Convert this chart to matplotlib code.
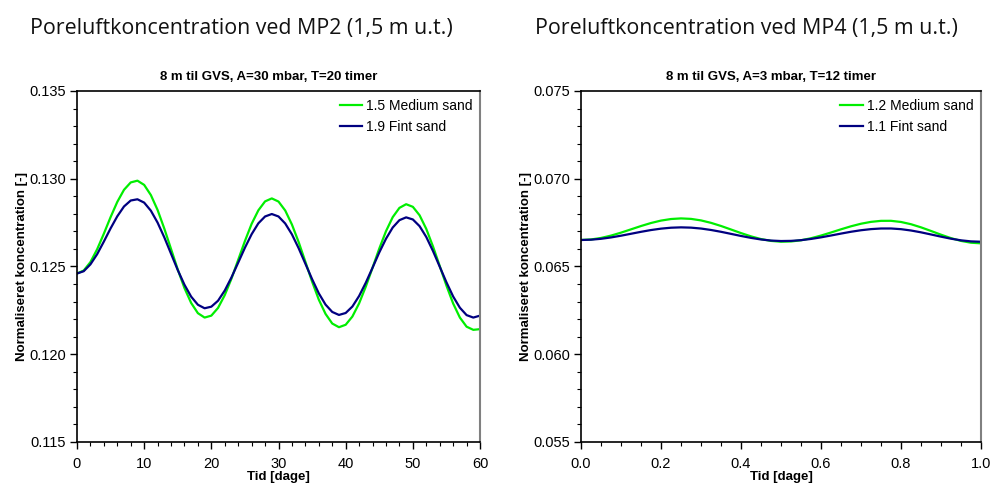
import numpy as np
import matplotlib
matplotlib.use("Agg")
import matplotlib.pyplot as plt
from matplotlib.ticker import MultipleLocator, FormatStrFormatter

# --- MP2, 30 mbar, T=20 timer (tid i dage) ---
t_mp2 = list(range(0, 61))
mp2_medium = [
    0.12460, 0.12477, 0.12525, 0.12598, 0.12687, 0.12781, 0.12868, 0.12937, 0.12979, 0.12989,
    0.12965, 0.12907, 0.12822, 0.12716, 0.12600, 0.12483, 0.12377, 0.12292, 0.12234, 0.12209,
    0.12220, 0.12264, 0.12337, 0.12431, 0.12538, 0.12645, 0.12743, 0.12820, 0.12871, 0.12888,
    0.12870, 0.12819, 0.12739, 0.12639, 0.12527, 0.12414, 0.12311, 0.12230, 0.12175, 0.12154,
    0.12168, 0.12215, 0.12290, 0.12386, 0.12493, 0.12602, 0.12701, 0.12781, 0.12834, 0.12855,
    0.12840, 0.12792, 0.12714, 0.12614, 0.12503, 0.12391, 0.12289, 0.12209, 0.12157, 0.12139,
    0.12143]
mp2_fint = [
    0.12460, 0.12473, 0.12512, 0.12570, 0.12642, 0.12717, 0.12786, 0.12842, 0.12876, 0.12883,
    0.12864, 0.12818, 0.12750, 0.12666, 0.12573, 0.12480, 0.12396, 0.12328, 0.12282, 0.12262,
    0.12271, 0.12305, 0.12363, 0.12438, 0.12522, 0.12607, 0.12684, 0.12746, 0.12785, 0.12799,
    0.12785, 0.12745, 0.12683, 0.12604, 0.12516, 0.12428, 0.12347, 0.12283, 0.12241, 0.12224,
    0.12235, 0.12272, 0.12332, 0.12408, 0.12493, 0.12580, 0.12658, 0.12722, 0.12764, 0.12780,
    0.12768, 0.12730, 0.12668, 0.12588, 0.12499, 0.12410, 0.12329, 0.12265, 0.12223, 0.12209,
    0.12220]

# --- MP4, 3 mbar, T=12 timer ---
t_mp4 = [i * 0.025 for i in range(41)]
mp4_medium = [
    0.066510, 0.066540, 0.066626, 0.066760, 0.066929, 0.067117, 0.067306, 0.067478, 0.067616, 0.067705,
    0.067740, 0.067713, 0.067626, 0.067487, 0.067309, 0.067108, 0.066904, 0.066717, 0.066563, 0.066458,
    0.066412, 0.066426, 0.066494, 0.066610, 0.066762, 0.066937, 0.067119, 0.067291, 0.067437, 0.067543,
    0.067601, 0.067603, 0.067537, 0.067409, 0.067231, 0.067025, 0.066812, 0.066616, 0.066458, 0.066355,
    0.066320]
mp4_fint = [
    0.066510, 0.066527, 0.066578, 0.066656, 0.066755, 0.066865, 0.066976, 0.067077, 0.067157, 0.067210,
    0.067230, 0.067214, 0.067163, 0.067081, 0.066977, 0.066859, 0.066740, 0.066630, 0.066540, 0.066478,
    0.066451, 0.066460, 0.066500, 0.066570, 0.066661, 0.066766, 0.066875, 0.066979, 0.067066, 0.067130,
    0.067165, 0.067166, 0.067127, 0.067051, 0.066947, 0.066825, 0.066700, 0.066584, 0.066491, 0.066431,
    0.066410]

GREEN = "#00ee00"
NAVY = "#000080"
plt.rcParams['font.family'] = ['Liberation Sans', 'DejaVu Sans']

fig = plt.figure(figsize=(9.92, 4.83), dpi=100)


def panel(rect, x, y1, y2, lab1, lab2, xlim, ylim, xmaj, xmin, xfmt,
          subtitle, title, title_x):
    ax = fig.add_axes(rect)
    ax.plot(x, y1, color=GREEN, lw=1.6, label=lab1)
    ax.plot(x, y2, color=NAVY, lw=1.6, label=lab2)
    ax.set_xlim(*xlim)
    ax.set_ylim(*ylim)
    ax.xaxis.set_major_locator(MultipleLocator(xmaj))
    ax.xaxis.set_minor_locator(MultipleLocator(xmin))
    ax.xaxis.set_major_formatter(FormatStrFormatter(xfmt))
    ax.yaxis.set_major_locator(MultipleLocator(0.005))
    ax.yaxis.set_minor_locator(MultipleLocator(0.001))
    ax.yaxis.set_major_formatter(FormatStrFormatter('%.3f'))
    ax.tick_params(which='major', direction='out', length=5, width=1,
                   labelsize=10.5, top=False, right=False)
    ax.tick_params(axis='x', which='major', pad=6)
    ax.tick_params(axis='y', which='major', pad=3)
    ax.tick_params(which='minor', direction='out', length=3, width=0.8,
                   top=False, right=False)
    for s in ['left', 'bottom', 'top']:
        ax.spines[s].set_color('black')
        ax.spines[s].set_linewidth(1.2)
    ax.spines['right'].set_color('#808080')
    ax.spines['right'].set_linewidth(1.5)
    ax.set_xlabel('Tid [dage]', fontsize=9.5, fontweight='bold', labelpad=0)
    ax.set_ylabel('Normaliseret koncentration [-]', fontsize=9.5,
                  fontweight='bold', labelpad=1)
    ax.set_title(subtitle, fontsize=9.5, fontweight='bold', pad=8, x=0.475)
    ax.legend(loc='upper right', frameon=False, fontsize=10,
              handlelength=1.6, handletextpad=0.3, labelspacing=0.55,
              borderaxespad=0.15)
    fig.text(title_x, 0.94, title, fontsize=15.4, family='Open Sans',
             ha='center', va='center', color='#111111')
    return ax


panel([0.0776, 0.0849, 0.4063, 0.7267], t_mp2, mp2_medium, mp2_fint,
      '1.5 Medium sand', '1.9 Fint sand', (0, 60), (0.115, 0.135), 10, 2, '%d',
      '8 m til GVS, A=30 mbar, T=20 timer',
      'Poreluftkoncentration ved MP2 (1,5 m u.t.)', 0.243)
panel([0.5857, 0.0849, 0.4032, 0.7267], t_mp4, mp4_medium, mp4_fint,
      '1.2 Medium sand', '1.1 Fint sand', (0, 1.0), (0.055, 0.075), 0.2, 0.05, '%.1f',
      '8 m til GVS, A=3 mbar, T=12 timer',
      'Poreluftkoncentration ved MP4 (1,5 m u.t.)', 0.752)

fig.savefig('out.png', dpi=100)
